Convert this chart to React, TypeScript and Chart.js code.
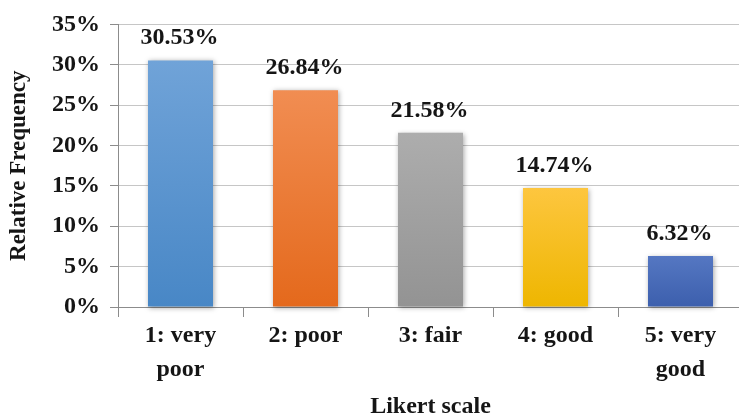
import React, { useEffect, useRef } from "react";
import { Chart, registerables } from "chart.js";

Chart.register(...registerables);

const categories: string[][] = [
  ["1: very", "poor"],
  ["2: poor"],
  ["3: fair"],
  ["4: good"],
  ["5: very", "good"],
];
const frequencies: number[] = [30.53, 26.84, 21.58, 14.74, 6.32];
const valueLabels: string[] = ["30.53%", "26.84%", "21.58%", "14.74%", "6.32%"];
const yTicks: number[] = [0, 5, 10, 15, 20, 25, 30, 35];

// light (top) and dark (bottom) stops for each bar's vertical gradient
const barTop: string[] = ["#70a3d8", "#f18d52", "#adadad", "#fdc63f", "#5577c2"];
const barBottom: string[] = ["#4887c6", "#e4691c", "#939393", "#eeb600", "#3c5fad"];

const FONT = "'Liberation Serif', 'Times New Roman', serif";
const INK = "#151515";

const shadowPlugin = {
  id: "barShadow",
  beforeDatasetDraw(chart: any) {
    const ctx = chart.ctx;
    ctx.save();
    ctx.shadowColor = "rgba(0,0,0,0.35)";
    ctx.shadowBlur = 5;
    ctx.shadowOffsetX = 1;
    ctx.shadowOffsetY = 1;
  },
  afterDatasetDraw(chart: any) {
    chart.ctx.restore();
  },
};

const valueLabelPlugin = {
  id: "valueLabels",
  afterDatasetsDraw(chart: any) {
    const ctx = chart.ctx;
    const meta = chart.getDatasetMeta(0);
    ctx.save();
    ctx.font = `bold 24px ${FONT}`;
    ctx.fillStyle = INK;
    ctx.textAlign = "center";
    ctx.textBaseline = "alphabetic";
    meta.data.forEach((bar: any, i: number) => {
      ctx.fillText(valueLabels[i], bar.x - 1, bar.y - 16);
    });
    ctx.restore();
  },
};

export default function App() {
  const canvasRef = useRef<HTMLCanvasElement | null>(null);

  useEffect(() => {
    const canvas = canvasRef.current;
    if (!canvas) return;
    const chart = new Chart(canvas, {
      type: "bar",
      data: {
        labels: categories,
        datasets: [
          {
            data: frequencies,
            backgroundColor: (c: any) => {
              const ch = c.chart;
              const i = c.dataIndex;
              const y = ch.scales?.y;
              if (!y || i === undefined) return barTop[0];
              const top = y.getPixelForValue(frequencies[i]);
              const bottom = y.getPixelForValue(0);
              if (!Number.isFinite(top) || !Number.isFinite(bottom) || top === bottom) {
                return barTop[i];
              }
              const g = ch.ctx.createLinearGradient(0, top, 0, bottom);
              g.addColorStop(0, barTop[i]);
              g.addColorStop(1, barBottom[i]);
              return g;
            },
            borderWidth: 0,
            categoryPercentage: 1,
            barPercentage: 0.52,
            clip: false as any,
          },
        ],
      },
      options: {
        responsive: false,
        animation: false,
        layout: { padding: { top: 17, right: 7, left: 0, bottom: 0 } },
        plugins: {
          legend: { display: false },
          tooltip: { enabled: false },
        },
        scales: {
          x: {
            grid: {
              offset: true,
              drawOnChartArea: false,
              drawTicks: true,
              tickLength: 10,
              color: "#8c8c8c",
            },
            border: { display: true, color: "#8c8c8c", width: 1 },
            ticks: {
              color: INK,
              padding: 2,
              maxRotation: 0,
              autoSkip: false,
              font: { family: FONT, size: 24, weight: "bold", lineHeight: 1.4 },
            },
            title: {
              display: true,
              text: "Likert scale",
              color: INK,
              padding: { top: 0, bottom: 0 },
              font: { family: FONT, size: 24, weight: "bold", lineHeight: 1.0 },
            },
            afterFit: (s: any) => {
              s.height = 112;
            },
          },
          y: {
            min: 0,
            max: 35,
            afterBuildTicks: (s: any) => {
              s.ticks = yTicks.map((v) => ({ value: v }));
            },
            grid: {
              color: "#c6c6c6",
              tickLength: 8,
              tickColor: "#8c8c8c",
            },
            border: { display: true, color: "#8c8c8c", width: 1 },
            ticks: {
              color: INK,
              padding: 10,
              callback: (v: any) => `${v}%`,
              font: { family: FONT, size: 24, weight: "bold" },
            },
            title: {
              display: true,
              text: "Relative Frequency",
              color: INK,
              padding: { top: 5, bottom: 0 },
              font: { family: FONT, size: 23, weight: "bold", lineHeight: 1.2 },
            },
            afterFit: (s: any) => {
              s.width = 118;
            },
          },
        },
      },
      plugins: [shadowPlugin, valueLabelPlugin],
    });
    return () => chart.destroy();
  }, []);

  return (
    <div
      style={{
        position: "fixed",
        left: 0,
        top: 0,
        width: 739,
        height: 419,
        overflow: "hidden",
        background: "#ffffff",
      }}
    >
      <canvas ref={canvasRef} width={750} height={419} style={{ display: "block" }} />
    </div>
  );
}
